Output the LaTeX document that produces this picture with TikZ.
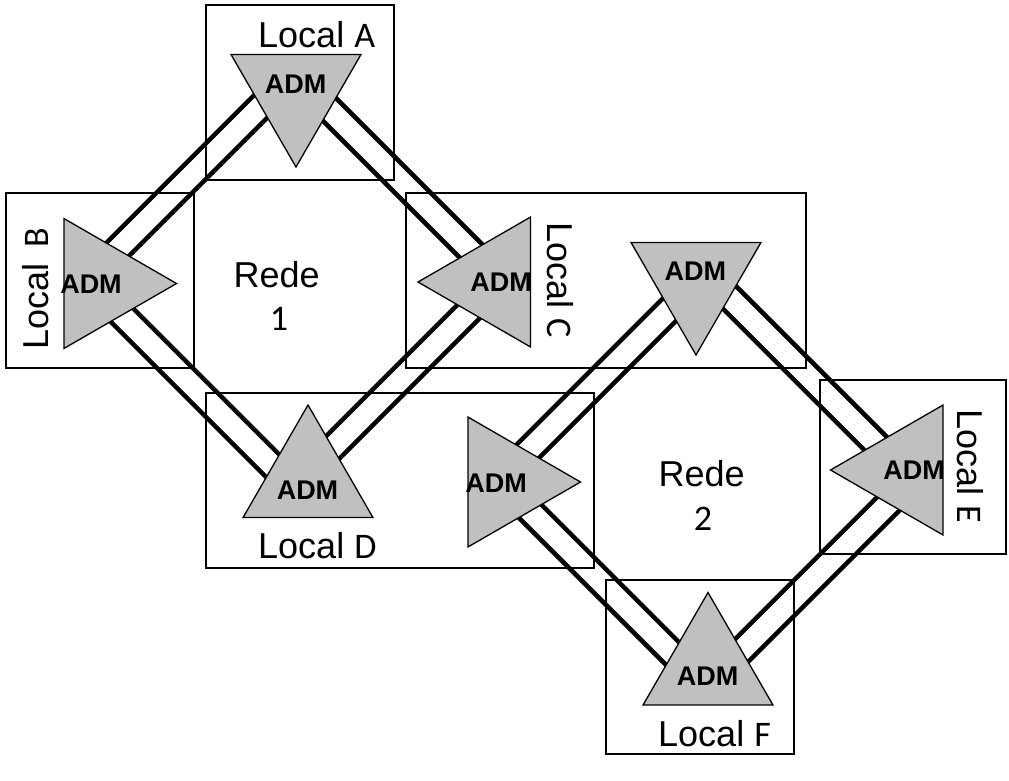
\documentclass[tikz,border=0pt]{standalone}
\usepackage{fontspec}
\setmainfont{Liberation Sans}
\newfontfamily\calib{Carlito}
\usetikzlibrary{shapes.geometric}
\definecolor{admgray}{RGB}{192,192,192}
\begin{document}
\begin{tikzpicture}[x=1pt,y=-1pt,
  site/.style={draw=black, line width=2pt, inner sep=0pt, outer sep=0pt},
  admtri/.style={regular polygon, regular polygon sides=3, minimum size=150pt,
     inner sep=0pt, draw=black, line width=1.3pt, fill=admgray},
  admtxt/.style={font=\fontsize{27}{30}\selectfont\bfseries, inner sep=0pt},
  loc/.style={font=\fontsize{36}{40}\selectfont, inner sep=0pt},
  link/.style={draw=black, line width=4.6pt, double=white, double distance=20.5pt}
]
\useasboundingbox[fill=white] (0,0) rectangle (1009,780);

% diamond corners (link ends)
\coordinate (cA) at (293.5,73.5);
\coordinate (cB) at (87,280);
\coordinate (cC) at (500,280);
\coordinate (cD) at (293.5,486.5);
\coordinate (cT) at (705.5,273.5);
\coordinate (cL) at (499,480);
\coordinate (cE) at (912,480);
\coordinate (cF) at (705.5,686.5);

% links
\draw[link] (cA) -- (cB);
\draw[link] (cA) -- (cC);
\draw[link] (cB) -- (cD);
\draw[link] (cC) -- (cD);
\draw[link] (cT) -- (cL);
\draw[link] (cT) -- (cE);
\draw[link] (cL) -- (cF);
\draw[link] (cE) -- (cF);

% site boxes
\node[site, minimum width=188pt, minimum height=175pt] (boxA) at (300,92.5) {};
\node[site, minimum width=188pt, minimum height=175pt] (boxB) at (100,280.5) {};
\node[site, minimum width=400pt, minimum height=175pt] (boxC) at (606,280.5) {};
\node[site, minimum width=388pt, minimum height=175pt] (boxD) at (400,480.5) {};
\node[site, minimum width=186pt, minimum height=174pt] (boxE) at (913,467) {};
\node[site, minimum width=188pt, minimum height=174pt] (boxF) at (700,667) {};

% ADM triangles
\node[admtri, shape border rotate=180] (tA) at (296,92) {};
\node[admtri, shape border rotate=-90] (tB) at (101.5,283.5) {};
\node[admtri, shape border rotate=90] (tC) at (493,282) {};
\node[admtri, shape border rotate=180] (tT) at (696,280) {};
\node[admtri] (tD) at (308,480) {};
\node[admtri, shape border rotate=-90] (tL) at (505.5,482) {};
\node[admtri, shape border rotate=90] (tE) at (905.5,470) {};
\node[admtri] (tF) at (708,667.5) {};

% ADM labels
\node[admtxt] (aA) at (295.7,84) {ADM};
\node[admtxt] (aB) at (91,284) {ADM};
\node[admtxt] (aC) at (501,282) {ADM};
\node[admtxt] (aT) at (695.3,271.3) {ADM};
\node[admtxt] (aD) at (307.5,490.5) {ADM};
\node[admtxt] (aL) at (496,483) {ADM};
\node[admtxt] (aE) at (914,470) {ADM};
\node[admtxt] (aF) at (707.5,676.5) {ADM};

% site labels
\node[loc, anchor=base west] (lA) at (258,47.7) {Local {\calib A}};
\node[loc, anchor=base west, rotate=90] (lB) at (48,349.5) {Local\hspace{16pt}{\calib B}};
\node[loc, anchor=base west, rotate=-90] (lC) at (547,222.5) {Local {\calib C}};
\node[loc, anchor=base west] (lD) at (258,558.3) {Local {\calib D}};
\node[loc, anchor=base west, rotate=-90] (lE) at (957,409.5) {Local {\calib E}};
\node[loc, anchor=base west] (lF) at (658,746.7) {Local {\calib F}};

% network labels
\node[loc, anchor=base west] (r1) at (233.5,287) {Rede};
\node[loc, anchor=base, font=\fontsize{36}{40}\calib] (n1) at (279,330) {1};
\node[loc, anchor=base west] (r2) at (658.5,486) {Rede};
\node[loc, anchor=base, font=\fontsize{36}{40}\calib] (n2) at (703,530) {2};
\end{tikzpicture}
\end{document}
